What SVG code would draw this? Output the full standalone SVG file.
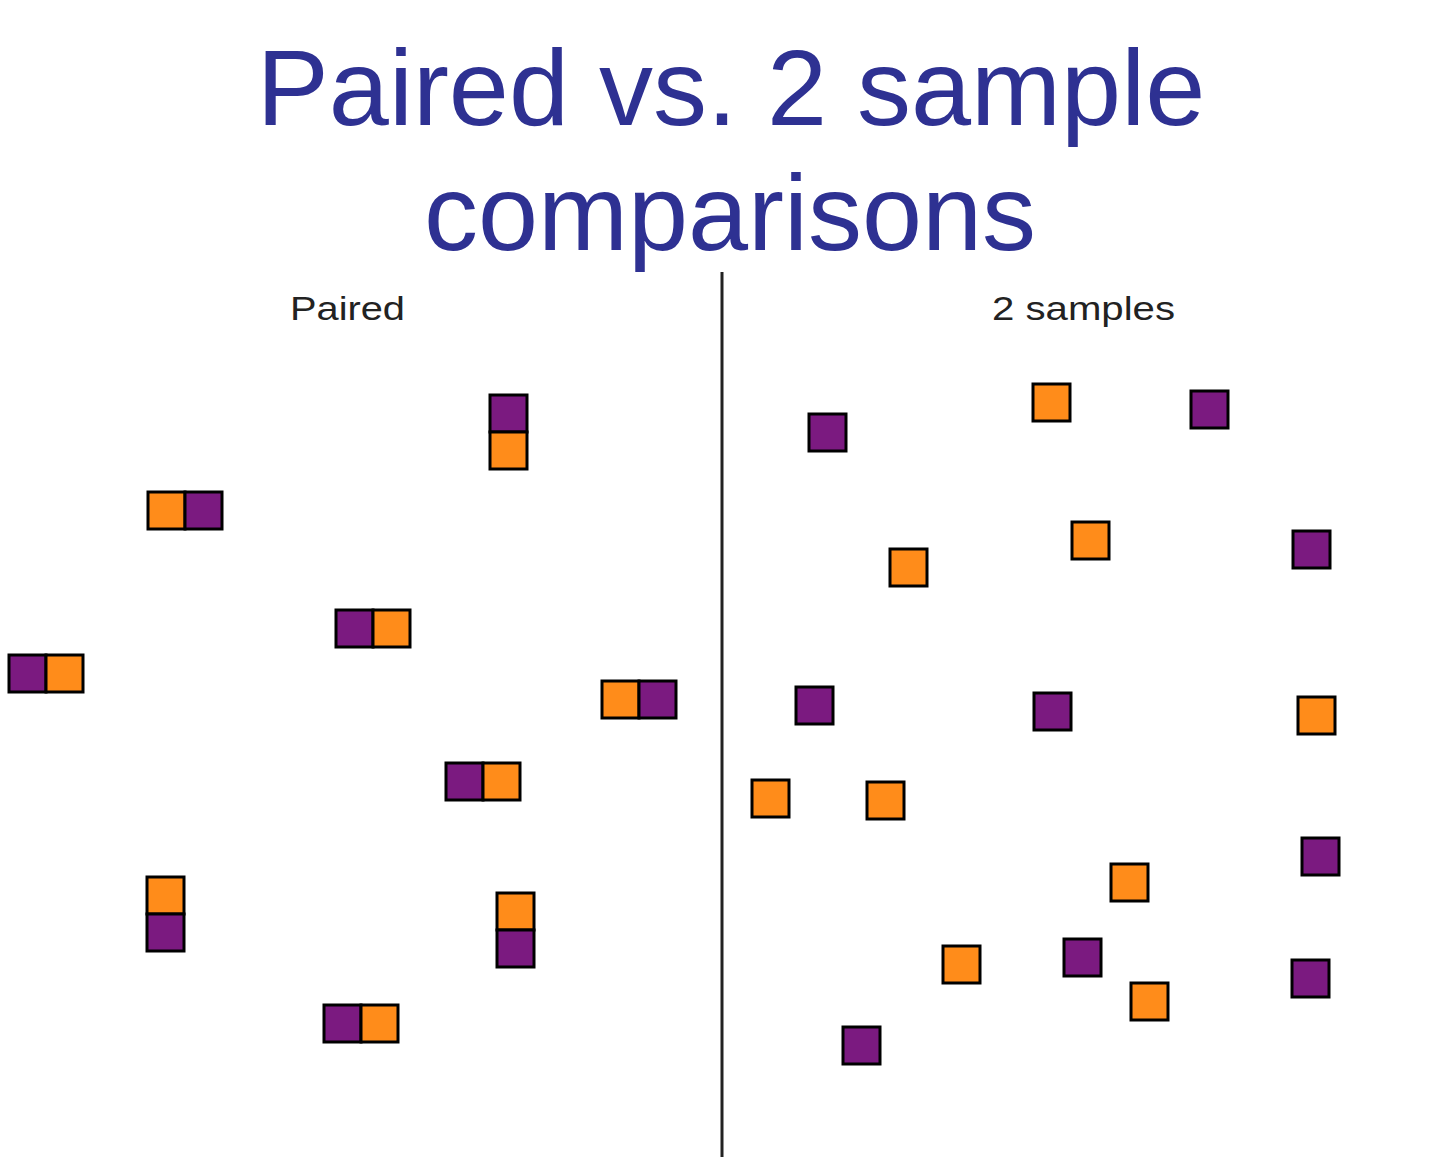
<svg xmlns="http://www.w3.org/2000/svg" width="1440" height="1157" viewBox="0 0 1440 1157">
<style>
.t{font-family:"Liberation Sans",Arial,sans-serif;fill:#2e3192;font-size:108px;text-anchor:middle}
.l{font-family:"Liberation Sans",Arial,sans-serif;fill:#222;font-size:34px}
.p{fill:#7b1a80;stroke:#000;stroke-width:3}
.o{fill:#ff8c1a;stroke:#000;stroke-width:3}
</style>
<rect width="1440" height="1157" fill="#fff"/>
<g id="title">
<text class="t" x="731" y="125">Paired vs. 2 sample</text>
<text class="t" x="730" y="250">comparisons</text>
</g>
<g id="divider"><line x1="722" y1="272" x2="722" y2="1157" stroke="#222" stroke-width="3"/></g>
<g id="label-paired"><text class="l" x="290" y="320" textLength="115" lengthAdjust="spacingAndGlyphs">Paired</text></g>
<g id="label-2samples"><text class="l" x="992" y="320" textLength="183" lengthAdjust="spacingAndGlyphs">2 samples</text></g>
<g id="paired">
<g id="pair1"><rect class="p" x="490" y="395" width="37" height="37"/><rect class="o" x="490" y="432" width="37" height="37"/></g>
<g id="pair2"><rect class="o" x="148" y="492" width="37" height="37"/><rect class="p" x="185" y="492" width="37" height="37"/></g>
<g id="pair3"><rect class="p" x="336" y="610" width="37" height="37"/><rect class="o" x="373" y="610" width="37" height="37"/></g>
<g id="pair4"><rect class="p" x="9" y="655" width="37" height="37"/><rect class="o" x="46" y="655" width="37" height="37"/></g>
<g id="pair5"><rect class="o" x="602" y="681" width="37" height="37"/><rect class="p" x="639" y="681" width="37" height="37"/></g>
<g id="pair6"><rect class="p" x="446" y="763" width="37" height="37"/><rect class="o" x="483" y="763" width="37" height="37"/></g>
<g id="pair7"><rect class="o" x="147" y="877" width="37" height="37"/><rect class="p" x="147" y="914" width="37" height="37"/></g>
<g id="pair8"><rect class="o" x="497" y="893" width="37" height="37"/><rect class="p" x="497" y="930" width="37" height="37"/></g>
<g id="pair9"><rect class="p" x="324" y="1005" width="37" height="37"/><rect class="o" x="361" y="1005" width="37" height="37"/></g>
</g>
<g id="samples">
<rect class="p" x="809" y="414" width="37" height="37"/>
<rect class="o" x="1033" y="384" width="37" height="37"/>
<rect class="p" x="1191" y="391" width="37" height="37"/>
<rect class="o" x="890" y="549" width="37" height="37"/>
<rect class="o" x="1072" y="522" width="37" height="37"/>
<rect class="p" x="1293" y="531" width="37" height="37"/>
<rect class="p" x="796" y="687" width="37" height="37"/>
<rect class="p" x="1034" y="693" width="37" height="37"/>
<rect class="o" x="1298" y="697" width="37" height="37"/>
<rect class="o" x="752" y="780" width="37" height="37"/>
<rect class="o" x="867" y="782" width="37" height="37"/>
<rect class="p" x="1302" y="838" width="37" height="37"/>
<rect class="o" x="1111" y="864" width="37" height="37"/>
<rect class="o" x="943" y="946" width="37" height="37"/>
<rect class="p" x="1064" y="939" width="37" height="37"/>
<rect class="o" x="1131" y="983" width="37" height="37"/>
<rect class="p" x="1292" y="960" width="37" height="37"/>
<rect class="p" x="843" y="1027" width="37" height="37"/>
</g>
</svg>
